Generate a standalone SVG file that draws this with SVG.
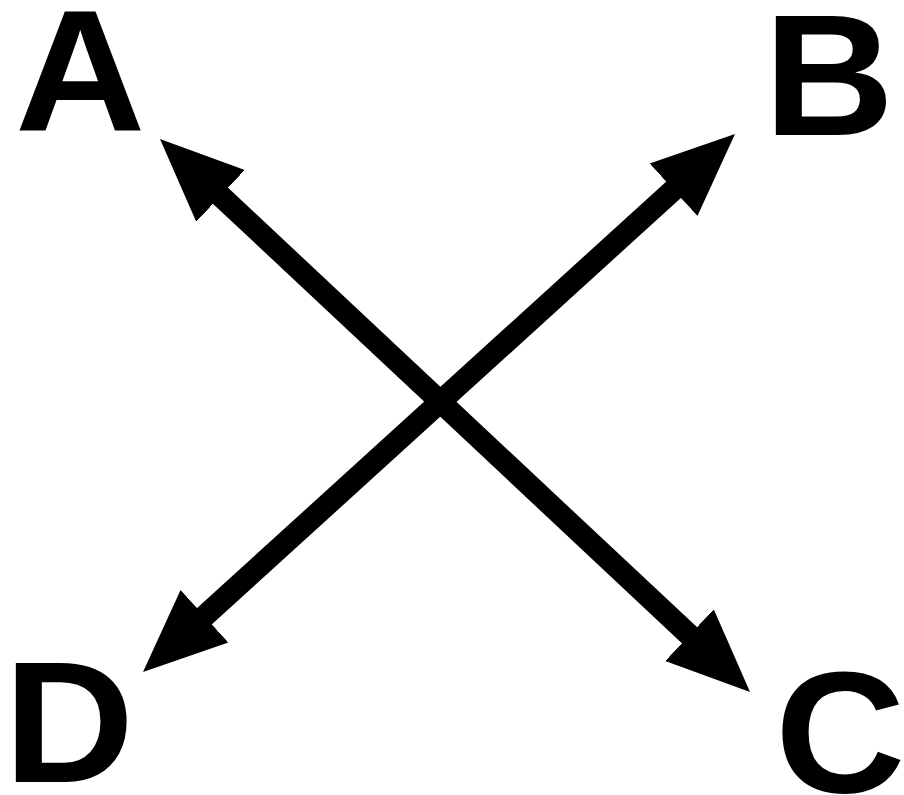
<svg xmlns="http://www.w3.org/2000/svg" width="904" height="795" viewBox="0 0 904 795">
<style>
.lbl{font-family:"Liberation Sans",Arial,sans-serif;font-weight:bold;font-size:172px;fill:#000}
.conn{stroke:#000;stroke-width:22;fill:none}
</style>
<defs>
<marker id="ah" markerUnits="userSpaceOnUse" markerWidth="84" markerHeight="74" viewBox="-1 -37 84 74" refX="0" refY="0" orient="auto-start-reverse">
<path d="M-1,-35.5 L82,0 L-1,35.5 z" fill="#000"/>
</marker>
</defs>
<rect width="904" height="795" fill="#fff"/>
<g id="connectors">
<line class="conn" x1="219.8" y1="195.1" x2="690.2" y2="635.9" marker-start="url(#ah)" marker-end="url(#ah)"/>
<line class="conn" x1="674.3" y1="189.1" x2="203.7" y2="616.9" marker-start="url(#ah)" marker-end="url(#ah)"/>
</g>
<g id="nodeA" transform="translate(15,130) scale(1.05,1)"><text class="lbl" x="0" y="0">A</text></g>
<g id="nodeB" transform="translate(763.7,135) scale(1.05,1)"><text class="lbl" x="0" y="0">B</text></g>
<g id="nodeC" transform="translate(775,792) scale(1.05,1)"><text class="lbl" x="0" y="0">C</text></g>
<g id="nodeD" transform="translate(3.7,782) scale(1.05,1)"><text class="lbl" x="0" y="0">D</text></g>
</svg>
